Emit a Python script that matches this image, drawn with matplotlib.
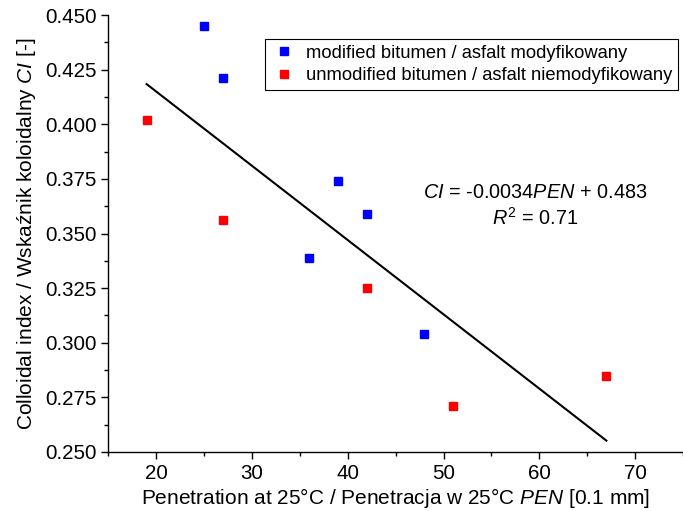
import matplotlib.pyplot as plt
from matplotlib.ticker import MultipleLocator, FormatStrFormatter
import numpy as np

plt.rcParams["font.family"] = ["Liberation Sans", "DejaVu Sans"]
plt.rcParams["mathtext.fontset"] = "custom"
plt.rcParams["mathtext.rm"] = "Liberation Sans"
plt.rcParams["mathtext.it"] = "Liberation Sans:italic"

# modified bitumen
mod_pen = [25, 27, 39, 42, 36, 48]
mod_ci = [0.445, 0.421, 0.374, 0.359, 0.339, 0.304]
# unmodified bitumen
unmod_pen = [19, 27, 42, 51, 67]
unmod_ci = [0.402, 0.356, 0.325, 0.271, 0.285]

# linear fit CI = a*PEN + b
fit_a = -0.0034
fit_b = 0.483
fit_range = [19, 67]

fig = plt.figure(figsize=(6.83, 5.11), dpi=100)
ax = fig.add_axes([0.1586, 0.1155, 0.8414, 0.855])

ax.plot(mod_pen, mod_ci, "s", color="#0000ff", markersize=5.5, linestyle="none",
        label="modified bitumen / asfalt modyfikowany")
ax.plot(unmod_pen, unmod_ci, "s", color="#ff0000", markersize=5.5, linestyle="none",
        label="unmodified bitumen / asfalt niemodyfikowany")

fx = np.array(fit_range)
ax.plot(fx, fit_a * fx + fit_b, color="black", linewidth=1.5)

ax.text(0.743, 0.593, r"$\it{CI}$ = -0.0034$\it{PEN}$ + 0.483",
        transform=ax.transAxes, ha="center", va="center", fontsize=14.3)
ax.text(0.743, 0.535, r"$\it{R}^2$ = 0.71",
        transform=ax.transAxes, ha="center", va="center", fontsize=14.3)

ax.set_xlim(15, 75)
ax.set_ylim(0.250, 0.450)
ax.xaxis.set_major_locator(MultipleLocator(10))
ax.xaxis.set_minor_locator(MultipleLocator(5))
ax.yaxis.set_major_locator(MultipleLocator(0.025))
ax.yaxis.set_minor_locator(MultipleLocator(0.0125))
ax.yaxis.set_major_formatter(FormatStrFormatter("%.3f"))

ax.spines["top"].set_visible(False)
ax.spines["right"].set_visible(False)
for s in ["left", "bottom"]:
    ax.spines[s].set_linewidth(1.0)
ax.tick_params(which="major", direction="out", length=5, width=1, labelsize=14.8)
ax.tick_params(which="minor", direction="out", length=3, width=1)

ax.set_xlabel(r"Penetration at 25°C / Penetracja w 25°C $\it{PEN}$ [0.1 mm]",
              fontsize=15, labelpad=2)
ax.set_ylabel(r"Colloidal index / Wskaźnik koloidalny $\it{CI}$ [-]",
              fontsize=15, labelpad=5)

leg = ax.legend(loc="upper left", bbox_to_anchor=(0.273, 0.945), fontsize=13.2,
                frameon=True, fancybox=False, edgecolor="black", framealpha=1,
                handlelength=1.4, handletextpad=0.55, borderpad=0.3,
                labelspacing=0.3, markerscale=1.0, borderaxespad=0)
leg.get_frame().set_linewidth(0.8)

fig.savefig("out.png", dpi=100, facecolor="white")
